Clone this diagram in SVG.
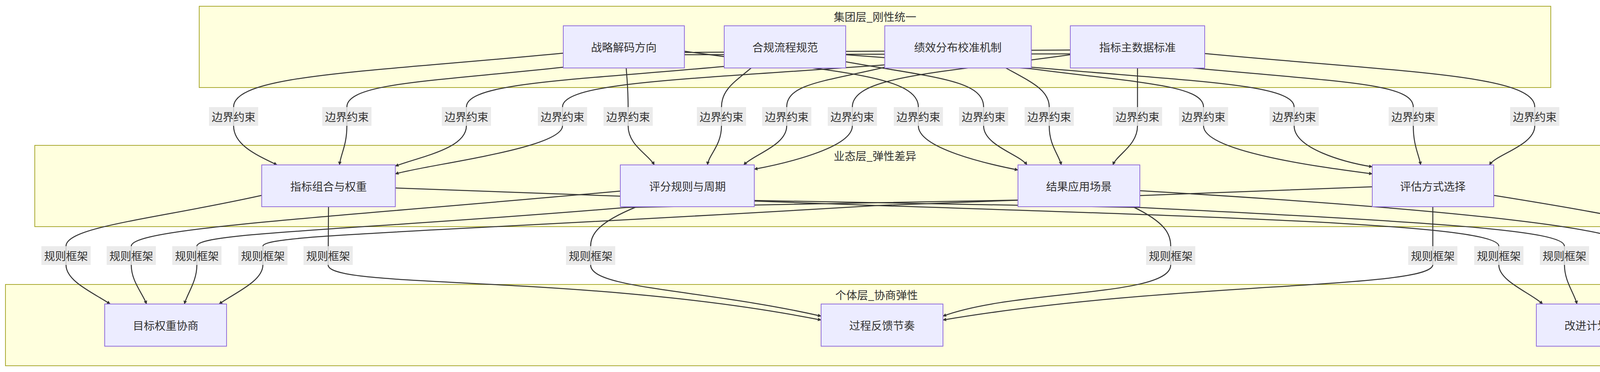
<svg xmlns="http://www.w3.org/2000/svg" width="4490" height="952" viewBox="0 0 4490 952">
<style>
.cl{fill:#ffffde;stroke:#aaaa33;stroke-width:2}
.nd{fill:#ececff;stroke:#9370db;stroke-width:2}
.t{font-family:"Noto Sans CJK SC","Liberation Sans",sans-serif;font-size:28px;fill:#333;text-anchor:middle;dominant-baseline:central}
.e{fill:none;stroke:#333;stroke-width:2.5;marker-end:url(#ar)}
.lb{fill:#e8e8e8;opacity:.85}
</style>
<defs><marker id="ar" viewBox="0 0 12 12" refX="11" refY="6" markerWidth="9" markerHeight="9" markerUnits="userSpaceOnUse" orient="auto"><path d="M0,0L12,6L0,12z" fill="#333"/></marker></defs>
<rect width="4490" height="952" fill="#fff"/>
<g id="clusters">
<rect class="cl" x="510" y="16" width="3460" height="208"/><text class="t" x="2240" y="42">集团层_刚性统一</text>
<rect class="cl" x="89" y="372" width="4303" height="208"/><text class="t" x="2240" y="398">业态层_弹性差异</text>
<rect class="cl" x="14" y="728" width="4460" height="208"/><text class="t" x="2244" y="754">个体层_协商弹性</text>
</g>
<g id="edges">
<path class="e" d="M2740,128 L1442,136 C936,185 598,191 598,274 L598,322 C598,372 660,398 709,422"/>
<path class="e" d="M1442,172 C1110,208 888,212 888,274 L888,322 C888,372 872,395 869,422"/>
<path class="e" d="M1854,170 C1458,206 1194,212 1194,274 L1194,322 C1194,380 1080,400 1012,425"/>
<path class="e" d="M2265,166 C1755,204 1440,210 1440,274 L1440,322 C1440,380 1100,420 1012,445"/>
<path class="e" d="M1603,174 C1606,210 1608,230 1608,274 L1608,322 C1608,372 1660,395 1675,422"/>
<path class="e" d="M1923,174 C1880,210 1847,230 1847,274 L1847,322 C1847,372 1815,395 1811,422"/>
<path class="e" d="M2265,172 C2114,208 2014,214 2014,274 L2014,322 C2014,372 1930,395 1904,422"/>
<path class="e" d="M2740,140 C2407,187 2182,194 2182,274 L2182,322 C2182,380 2000,420 1931,433"/>
<path class="e" d="M1752,131 C2111,182 2351,189 2351,274 L2351,322 C2351,380 2530,420 2606,435"/>
<path class="e" d="M2165,158 C2386,198 2518,204 2518,274 L2518,322 C2518,372 2610,395 2629,422"/>
<path class="e" d="M2575,174 C2640,210 2686,230 2686,274 L2686,322 C2686,372 2710,395 2717,422"/>
<path class="e" d="M2912,174 L2912,322 C2912,372 2860,395 2849,422"/>
<path class="e" d="M1752,140 L3084,137 C3595,185 3929,191 3929,274 L3929,322 C3929,372 3830,395 3813,422"/>
<path class="e" d="M2165,140 L2640,176 C2906,211 3081,217 3081,274 L3081,322 C3081,390 3400,430 3513,445"/>
<path class="e" d="M2640,172 C3048,208 3313,214 3313,274 L3313,322 C3313,380 3440,415 3513,427"/>
<path class="e" d="M3054,174 C3440,210 3618,214 3618,274 L3618,322 C3618,372 3632,395 3637,422"/>
<path class="e" d="M670,500 C400,560 169,580 169,630 L169,678 C169,720 240,750 282,778"/>
<path class="e" d="M1588,489 C800,560 336,585 336,630 L336,678 C336,720 365,750 375,778"/>
<path class="e" d="M2606,512 L1603,531 C900,590 504,595 504,630 L504,678 C504,720 480,750 472,778"/>
<path class="e" d="M3513,478 L2245,526 C1100,595 673,600 673,630 L673,678 C673,720 600,750 561,778"/>
<path class="e" d="M841,529 L840,678 C840,740 1500,700 2102,819"/>
<path class="e" d="M1630,529 C1530,570 1512,600 1512,630 L1512,678 C1512,740 1800,740 2102,809"/>
<path class="e" d="M2900,529 C2985,570 2997,600 2997,630 L2997,678 C2997,760 2600,740 2414,809"/>
<path class="e" d="M3668,529 L3668,678 C3660,740 3000,720 2414,819"/>
<path class="e" d="M1012,481 L2245,526 C3300,560 3837,580 3837,630 L3837,678 C3837,720 3920,750 3949,778"/>
<path class="e" d="M1931,513 L2918,531 C3700,570 4005,590 4005,630 L4005,678 C4005,720 4030,750 4037,778"/>
<path class="e" d="M2918,488 C3800,540 4172,590 4172,630 L4172,678 C4172,720 4150,750 4142,778"/>
<path class="e" d="M3824,500 C4200,560 4339,590 4339,630 L4339,678 C4339,720 4260,750 4232,778"/>
</g>
<g id="edge-labels">
<g><rect class="lb" x="535" y="274" width="126" height="48"/><text class="t" x="598" y="298">边界约束</text></g>
<g><rect class="lb" x="825" y="274" width="126" height="48"/><text class="t" x="888" y="298">边界约束</text></g>
<g><rect class="lb" x="1131" y="274" width="126" height="48"/><text class="t" x="1194" y="298">边界约束</text></g>
<g><rect class="lb" x="1377" y="274" width="126" height="48"/><text class="t" x="1440" y="298">边界约束</text></g>
<g><rect class="lb" x="1545" y="274" width="126" height="48"/><text class="t" x="1608" y="298">边界约束</text></g>
<g><rect class="lb" x="1784" y="274" width="126" height="48"/><text class="t" x="1847" y="298">边界约束</text></g>
<g><rect class="lb" x="1951" y="274" width="126" height="48"/><text class="t" x="2014" y="298">边界约束</text></g>
<g><rect class="lb" x="2119" y="274" width="126" height="48"/><text class="t" x="2182" y="298">边界约束</text></g>
<g><rect class="lb" x="2288" y="274" width="126" height="48"/><text class="t" x="2351" y="298">边界约束</text></g>
<g><rect class="lb" x="2455" y="274" width="126" height="48"/><text class="t" x="2518" y="298">边界约束</text></g>
<g><rect class="lb" x="2623" y="274" width="126" height="48"/><text class="t" x="2686" y="298">边界约束</text></g>
<g><rect class="lb" x="2849" y="274" width="126" height="48"/><text class="t" x="2912" y="298">边界约束</text></g>
<g><rect class="lb" x="3018" y="274" width="126" height="48"/><text class="t" x="3081" y="298">边界约束</text></g>
<g><rect class="lb" x="3250" y="274" width="126" height="48"/><text class="t" x="3313" y="298">边界约束</text></g>
<g><rect class="lb" x="3555" y="274" width="126" height="48"/><text class="t" x="3618" y="298">边界约束</text></g>
<g><rect class="lb" x="3866" y="274" width="126" height="48"/><text class="t" x="3929" y="298">边界约束</text></g>
<g><rect class="lb" x="106" y="630" width="126" height="48"/><text class="t" x="169" y="654">规则框架</text></g>
<g><rect class="lb" x="273" y="630" width="126" height="48"/><text class="t" x="336" y="654">规则框架</text></g>
<g><rect class="lb" x="441" y="630" width="126" height="48"/><text class="t" x="504" y="654">规则框架</text></g>
<g><rect class="lb" x="610" y="630" width="126" height="48"/><text class="t" x="673" y="654">规则框架</text></g>
<g><rect class="lb" x="777" y="630" width="126" height="48"/><text class="t" x="840" y="654">规则框架</text></g>
<g><rect class="lb" x="1449" y="630" width="126" height="48"/><text class="t" x="1512" y="654">规则框架</text></g>
<g><rect class="lb" x="2934" y="630" width="126" height="48"/><text class="t" x="2997" y="654">规则框架</text></g>
<g><rect class="lb" x="3605" y="630" width="126" height="48"/><text class="t" x="3668" y="654">规则框架</text></g>
<g><rect class="lb" x="3774" y="630" width="126" height="48"/><text class="t" x="3837" y="654">规则框架</text></g>
<g><rect class="lb" x="3942" y="630" width="126" height="48"/><text class="t" x="4005" y="654">规则框架</text></g>
<g><rect class="lb" x="4109" y="630" width="126" height="48"/><text class="t" x="4172" y="654">规则框架</text></g>
<g><rect class="lb" x="4276" y="630" width="126" height="48"/><text class="t" x="4339" y="654">规则框架</text></g>
</g>
<g id="A"><rect class="nd" x="1442" y="66" width="310" height="108"/><text class="t" x="1597" y="120">战略解码方向</text></g>
<g id="B"><rect class="nd" x="1854" y="66" width="311" height="108"/><text class="t" x="2010" y="120">合规流程规范</text></g>
<g id="C"><rect class="nd" x="2265" y="66" width="375" height="108"/><text class="t" x="2452" y="120">绩效分布校准机制</text></g>
<g id="D"><rect class="nd" x="2740" y="66" width="344" height="108"/><text class="t" x="2912" y="120">指标主数据标准</text></g>
<g id="P"><rect class="nd" x="670" y="422" width="342" height="107"/><text class="t" x="841" y="476">指标组合与权重</text></g>
<g id="Q"><rect class="nd" x="1588" y="422" width="343" height="107"/><text class="t" x="1760" y="476">评分规则与周期</text></g>
<g id="R"><rect class="nd" x="2606" y="422" width="312" height="107"/><text class="t" x="2762" y="476">结果应用场景</text></g>
<g id="S"><rect class="nd" x="3513" y="422" width="311" height="107"/><text class="t" x="3668" y="476">评估方式选择</text></g>
<g id="X"><rect class="nd" x="268" y="778" width="312" height="108"/><text class="t" x="424" y="832">目标权重协商</text></g>
<g id="Y"><rect class="nd" x="2102" y="778" width="312" height="108"/><text class="t" x="2258" y="832">过程反馈节奏</text></g>
<g id="Z"><rect class="nd" x="3933" y="778" width="312" height="108"/><text class="t" x="4089" y="832">改进计划定制</text></g>
</svg>
